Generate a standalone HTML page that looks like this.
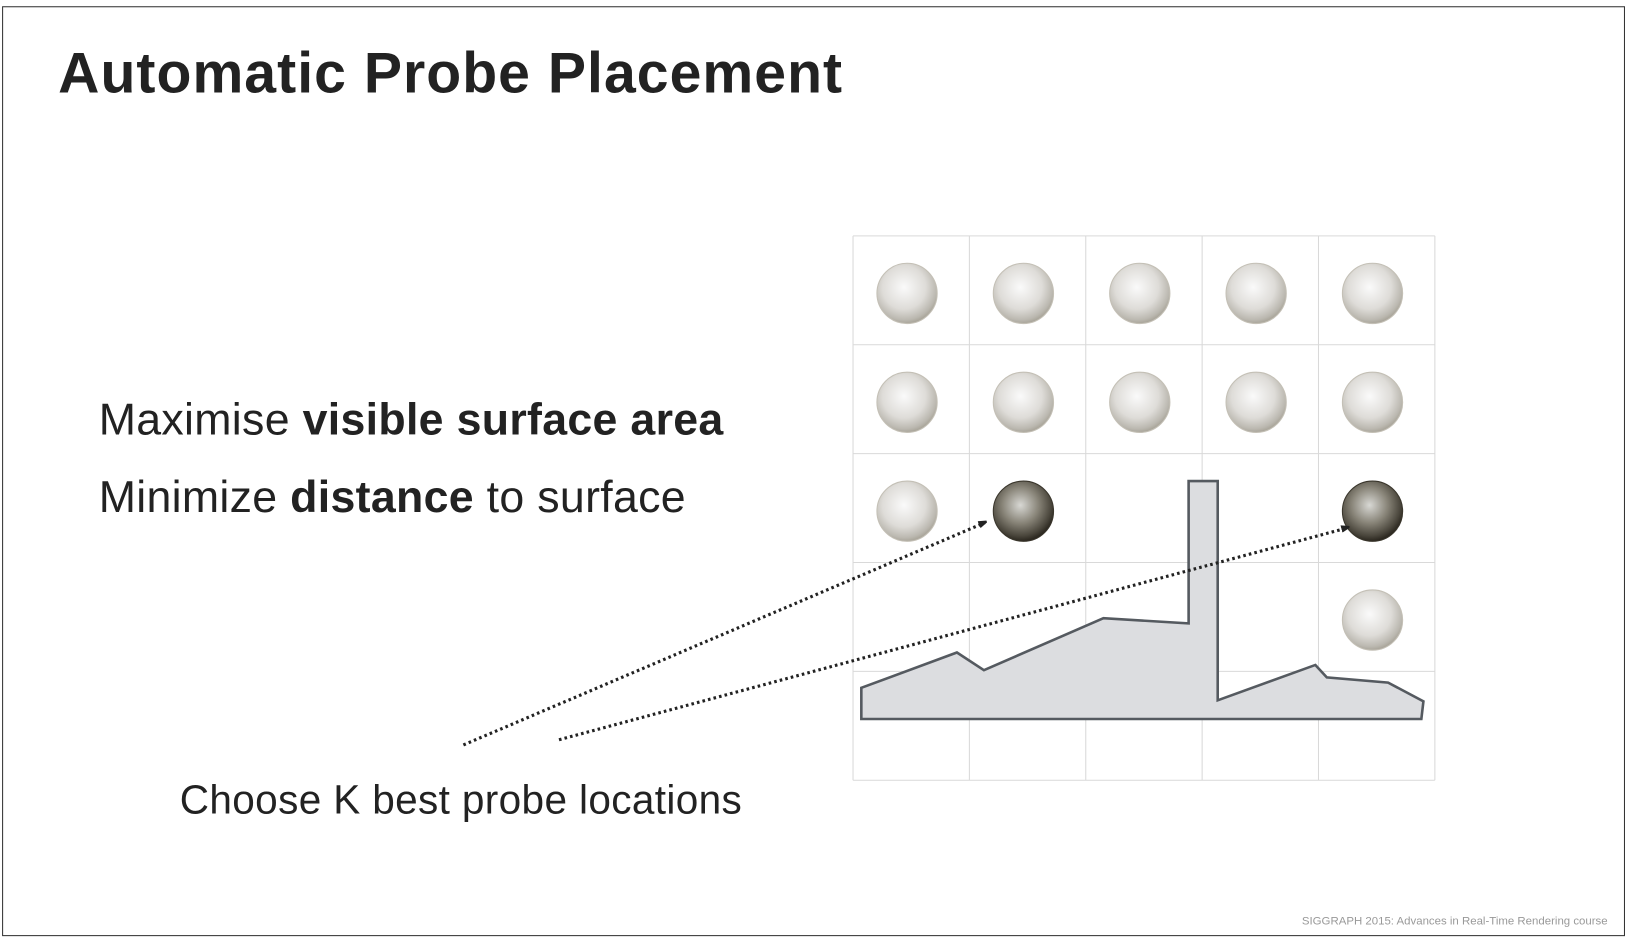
<!DOCTYPE html>
<html><head><meta charset="utf-8"><style>
html,body{margin:0;padding:0;background:#fff;width:1626px;height:943px;overflow:hidden}
#stage{position:absolute;left:0;top:0;width:1565px;height:907.6px;transform:scale(1.039);transform-origin:0 0;font-family:"Liberation Sans",sans-serif;color:#222}
.t{position:absolute;white-space:nowrap}
</style></head><body>
<div id="stage">
<div style="position:absolute;left:2px;top:6px;width:1560px;height:893px;border:1px solid #333"></div>
<div class="t" style="left:56px;top:38px;font-size:55px;font-weight:bold;color:#222;letter-spacing:1px">Automatic Probe Placement</div>
<div class="t" style="left:95px;top:380px;font-size:43px;color:#222;letter-spacing:0.3px">Maximise <b>visible surface area</b></div>
<div class="t" style="left:95px;top:455px;font-size:43px;color:#222;letter-spacing:0.3px">Minimize <b>distance</b> to surface</div>
<div class="t" style="left:173px;top:749px;font-size:39px;color:#222;letter-spacing:0.35px">Choose K best probe locations</div>
<div class="t" style="left:1253px;top:881px;font-size:11px;color:#999">SIGGRAPH 2015: Advances in Real-Time Rendering course</div>
<svg id="diag" width="1565" height="908" style="position:absolute;left:0;top:0">
<defs>
<radialGradient id="lg" cx="45%" cy="40%" r="60%"><stop offset="0" stop-color="#fafafa"/><stop offset="0.6" stop-color="#dedcd8"/><stop offset="0.9" stop-color="#bbb8b0"/><stop offset="1" stop-color="#a9a59a"/></radialGradient>
<radialGradient id="dg" cx="45%" cy="40%" r="60%"><stop offset="0" stop-color="#d8d8d4"/><stop offset="0.5" stop-color="#888478"/><stop offset="0.85" stop-color="#4a463c"/><stop offset="1" stop-color="#2a261e"/></radialGradient>
<marker id="ah" markerWidth="8" markerHeight="8" refX="6" refY="4" orient="auto" markerUnits="userSpaceOnUse"><path d="M0,0 L12,4 L0,8 Z" transform="scale(0.9)" fill="#222"/></marker>
</defs>
<g id="grid"></g><g id="shape"></g><g id="spheres"></g><g id="arrows"></g>
</svg>
</div>
<script>
const gridCols = 5, gridRows = 5;
// sphere states per row: 0 none, 1 light, 2 dark (selected)
const probeRow0 = [1,1,1,1,1];
const probeRow1 = [1,1,1,1,1];
const probeRow2 = [1,2,0,0,2];
const probeRow3 = [0,0,0,0,1];
const probeRow4 = [0,0,0,0,0];
const surfaceX = [829,921,947,1062,1144,1144,1172,1172,1266,1277,1336,1370,1368,829];
const surfaceY = [662,628,645,595,600,463,463,674,640,652,657,675,692,692];
const arrowFrom = [[446,717],[538,712]];
const arrowTo = [[948,503],[1297,508]];
const gx0=821, gy0=227, cw=112, rh=104.8;
const NS="http://www.w3.org/2000/svg";
const g=document.getElementById('grid');
for(let i=0;i<=gridCols;i++){const l=document.createElementNS(NS,'line');l.setAttribute('x1',gx0+i*cw);l.setAttribute('x2',gx0+i*cw);l.setAttribute('y1',gy0);l.setAttribute('y2',gy0+gridRows*rh);l.setAttribute('stroke','#d9d9d9');l.setAttribute('stroke-width','1');


g.appendChild(l);}
for(let j=0;j<=gridRows;j++){const l=document.createElementNS(NS,'line');l.setAttribute('y1',gy0+j*rh);l.setAttribute('y2',gy0+j*rh);l.setAttribute('x1',gx0);l.setAttribute('x2',gx0+gridCols*cw);l.setAttribute('stroke','#d9d9d9');l.setAttribute('stroke-width','1');


g.appendChild(l);}
const poly=document.createElementNS(NS,'polygon');
poly.setAttribute('points',surfaceX.map((x,i)=>x+','+surfaceY[i]).join(' '));
poly.setAttribute('fill','#dcdde0');poly.setAttribute('stroke','#555a60');poly.setAttribute('stroke-width','2.5');poly.setAttribute('stroke-linejoin','miter');


document.getElementById('shape').appendChild(poly);
const rows=[probeRow0,probeRow1,probeRow2,probeRow3,probeRow4];
const sg=document.getElementById('spheres');
rows.forEach((r,j)=>r.forEach((v,i)=>{if(!v)return;const c=document.createElementNS(NS,'circle');
c.setAttribute('cx',gx0+(i+0.5)*cw-4);c.setAttribute('cy',gy0+(j+0.5)*rh+3);c.setAttribute('r',29);
c.setAttribute('fill',v===2?'url(#dg)':'url(#lg)');c.setAttribute('stroke',v===2?'#3a362c':'#c4c0b6');c.setAttribute('stroke-width','1');


sg.appendChild(c);}));
const ag=document.getElementById('arrows');
arrowFrom.forEach((f,k)=>{const l=document.createElementNS(NS,'line');
l.setAttribute('x1',f[0]);l.setAttribute('y1',f[1]);l.setAttribute('x2',arrowTo[k][0]);l.setAttribute('y2',arrowTo[k][1]);
l.setAttribute('stroke','#222');l.setAttribute('stroke-width','3');l.setAttribute('stroke-dasharray','2.5 3');l.setAttribute('marker-end','url(#ah)');


ag.appendChild(l);});
</script>
</body></html>
